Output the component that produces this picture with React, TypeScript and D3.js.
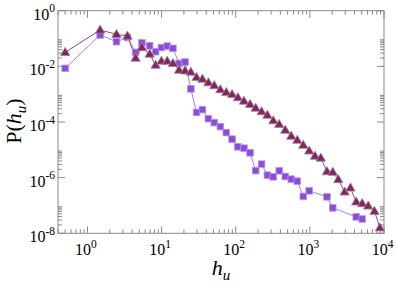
import React from "react";
import * as d3 from "d3";

const triX = [0.5, 1.48, 2.46, 3.46, 4.46, 5.41, 6.89, 8.3, 9.94, 11.9, 14.2, 17.2, 20.7, 24.8, 29.6, 35.5, 42.7, 51.3, 62, 74.5, 89.2, 107, 129, 156, 186, 223, 267, 321, 386, 466, 561, 676, 815, 979, 1172, 1403, 1700, 2035, 2415, 2944, 3525, 4220, 5080, 6120, 7430, 8810];
const triY = [3.19e-2, 0.202, 0.142, 0.123, 1.99e-2, 4.75e-2, 2.77e-2, 1.11e-2, 1.55e-2, 1.55e-2, 1.28e-2, 7.36e-3, 6.95e-3, 6.24e-3, 4.02e-3, 3.49e-3, 2.61e-3, 2.04e-3, 1.46e-3, 1.16e-3, 9.84e-4, 7.55e-4, 5.65e-4, 4.3e-4, 3.16e-4, 2.37e-4, 1.77e-4, 1.12e-4, 8.26e-5, 5.11e-5, 3.11e-5, 2.23e-5, 1.48e-5, 9.2e-6, 5.93e-6, 5.11e-6, 1.67e-6, 1.58e-6, 8.61e-7, 3.08e-7, 4.29e-7, 1.35e-7, 1.18e-7, 9.67e-8, 6.24e-8, 1.59e-8];

const sqX = [0.5, 1.48, 2.46, 3.46, 4.46, 5.41, 6.89, 8.3, 9.94, 11.9, 14.2, 17.2, 20.7, 24.8, 29.6, 35.5, 42.7, 51.3, 62, 74.5, 89.2, 107, 129, 156, 186, 223, 267, 321, 386, 466, 561, 676, 815, 979, 1700, 2035, 4220, 5080];
const sqY = [8.48e-3, 0.134, 7.67e-2, 0.109, 3.19e-2, 7.0e-2, 5.46e-2, 3.35e-2, 4.75e-2, 5.37e-2, 4.44e-2, 1.28e-2, 1.43e-2, 1.55e-3, 2.21e-4, 2.79e-4, 1.32e-4, 9.51e-5, 6.83e-5, 4.16e-5, 2.43e-5, 1.28e-5, 1.15e-5, 7.8e-6, 1.79e-6, 3.06e-6, 1.23e-6, 1.07e-6, 1.76e-6, 1.1e-6, 8.83e-7, 7.48e-7, 2.11e-7, 3.35e-7, 2.04e-7, 8.2e-8, 3.89e-8, 3.27e-8];

const xMajorExp = [0, 1, 2, 3, 4];
const yMajorExp = [0, -2, -4, -6, -8];

const W = 397, H = 284;
const L = 58, R = 384, T = 10.7, B = 233.3;

export default function App() {
  const x = d3.scaleLog().domain([0.4, 10000]).range([L, R]);
  const y = d3.scaleLog().domain([1e-8, 1]).range([B, T]);

  const xMinor: number[] = [];
  for (let e = -1; e <= 3; e++) {
    for (let j = 2; j <= 9; j++) {
      const v = j * Math.pow(10, e);
      if (v >= 0.4 && v < 10000) xMinor.push(v);
    }
  }
  const yMinor: number[] = [];
  for (const e of [-8, -6, -4, -2]) {
    for (let j = 2; j <= 9; j++) yMinor.push(j * Math.pow(10, e));
  }

  const line = d3.line<[number, number]>().x(d => x(d[0])).y(d => y(d[1]));
  const triPts: [number, number][] = triX.map((v, i) => [v, triY[i]]);
  const sqPts: [number, number][] = sqX.map((v, i) => [v, sqY[i]]);

  const axisColor = "#8a8a8a";
  const font = "'Liberation Serif', 'Times New Roman', serif";
  const triPath = d3.symbol().type(d3.symbolTriangle).size(38)();

  return (
    <div style={{ position: "fixed", left: 0, top: 0 }}>
      <svg width={W} height={H} style={{ display: "block", background: "#fff" }}>
        <rect x={L} y={T} width={R - L} height={B - T} fill="none" stroke={axisColor} strokeWidth={1} />
        {xMajorExp.map(e => {
          const px = x(Math.pow(10, e));
          return (
            <g key={"xm" + e}>
              <line x1={px} x2={px} y1={B} y2={B - 7} stroke={axisColor} />
              <line x1={px} x2={px} y1={T} y2={T + 7} stroke={axisColor} />
            </g>
          );
        })}
        {xMinor.map((v, i) => {
          const px = x(v);
          return (
            <g key={"xn" + i}>
              <line x1={px} x2={px} y1={B} y2={B - 4} stroke={axisColor} />
              <line x1={px} x2={px} y1={T} y2={T + 4} stroke={axisColor} />
            </g>
          );
        })}
        {yMajorExp.map(e => {
          const py = y(Math.pow(10, e));
          return (
            <g key={"ym" + e}>
              <line x1={L} x2={L + 7} y1={py} y2={py} stroke={axisColor} />
              <line x1={R} x2={R - 7} y1={py} y2={py} stroke={axisColor} />
            </g>
          );
        })}
        {yMinor.map((v, i) => {
          const py = y(v);
          return (
            <g key={"yn" + i}>
              <line x1={L} x2={L + 4} y1={py} y2={py} stroke={axisColor} />
              <line x1={R} x2={R - 4} y1={py} y2={py} stroke={axisColor} />
            </g>
          );
        })}
        {xMajorExp.map(e => (
          <text key={"xl" + e} x={x(Math.pow(10, e)) - 1.5} y={255} textAnchor="middle" fontFamily={font} fontSize={16} fill="#000">
            10<tspan dy={-7.5} fontSize={11.5}>{e}</tspan>
          </text>
        ))}
        {yMajorExp.map(e => (
          <text key={"yl" + e} x={55} y={y(Math.pow(10, e)) + 9} textAnchor="end" fontFamily={font} fontSize={16} fill="#000">
            10<tspan dy={-7.5} fontSize={11.5}>{e}</tspan>
          </text>
        ))}
        <path d={line(sqPts) || ""} fill="none" stroke="#a47fe6" strokeWidth={1} />
        <path d={line(triPts) || ""} fill="none" stroke="#8f4b79" strokeWidth={1} />
        {sqPts.map((d, i) => (
          <rect key={"s" + i} x={x(d[0]) - 3.3} y={y(d[1]) - 3.3} width={6.6} height={6.6} fill="#8a4dd6" stroke="#b596ea" strokeWidth={0.8} />
        ))}
        {triPts.map((d, i) => (
          <path key={"t" + i} d={triPath || ""} transform={`translate(${x(d[0])},${y(d[1]) + 0.5})`} fill="#7b2a5d" stroke="#b07c9b" strokeWidth={0.8} />
        ))}
        <text x={221} y={275} textAnchor="middle" fontFamily={font} fontSize={22} fontStyle="italic" fill="#000">
          h<tspan dy={5} fontSize={15}>u</tspan>
        </text>
        <text transform={`translate(21,121) rotate(-90)`} textAnchor="middle" fontFamily={font} fontSize={22} fill="#000">
          P(<tspan fontStyle="italic">h</tspan><tspan fontStyle="italic" fontSize={15} dy={5}>u</tspan><tspan dy={-5}>)</tspan>
        </text>
      </svg>
    </div>
  );
}
